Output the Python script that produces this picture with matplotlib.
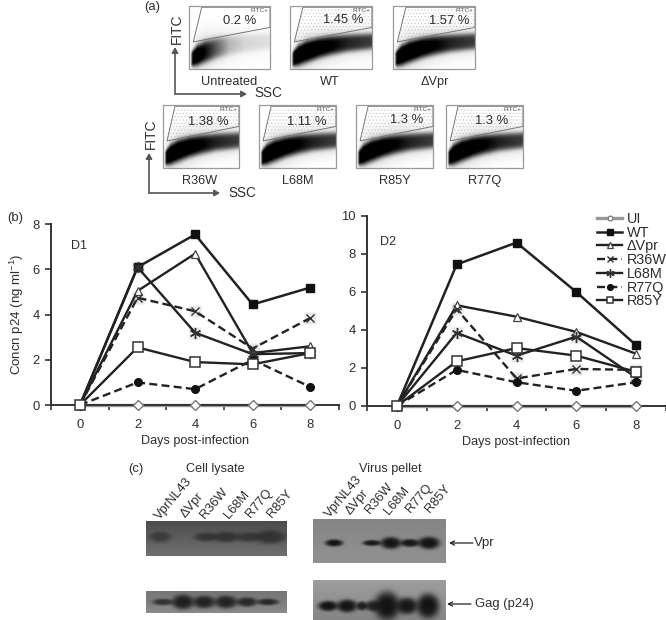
import numpy as np
import matplotlib
matplotlib.use("Agg")
import matplotlib.pyplot as plt
from matplotlib.lines import Line2D
from matplotlib.patches import Polygon, Rectangle

plt.rcParams['font.family'] = ['Liberation Sans', 'DejaVu Sans']
plt.rcParams['mathtext.fontset'] = 'custom'
plt.rcParams['mathtext.rm'] = 'Liberation Sans'
plt.rcParams['mathtext.default'] = 'rm'
plt.rcParams['hatch.linewidth'] = 0.3

# ---------- data: growth curves ----------
days = [0, 2, 4, 6, 8]
series_names = ['UI', 'WT', 'ΔVpr', 'R36W', 'L68M', 'R77Q', 'R85Y']
d1_ui = [0, 0, 0, 0, 0]
d1_wt = [0, 6.1, 7.55, 4.45, 5.2]
d1_dvpr = [0, 5.05, 6.7, 2.3, 2.6]
d1_r36w = [0, 4.75, 4.15, 2.5, 3.85]
d1_l68m = [0, 6.1, 3.2, 2.25, 2.3]
d1_r77q = [0, 1.0, 0.7, 2.0, 0.8]
d1_r85y = [0, 2.55, 1.9, 1.8, 2.3]
d2_ui = [0, 0, 0, 0, 0]
d2_wt = [0, 7.45, 8.6, 6.0, 3.2]
d2_dvpr = [0, 5.3, 4.7, 3.9, 2.75]
d2_r36w = [0, 5.1, 1.45, 1.95, 1.9]
d2_l68m = [0, 3.85, 2.65, 3.65, 1.5]
d2_r77q = [0, 1.9, 1.25, 0.8, 1.25]
d2_r85y = [0, 2.35, 3.05, 2.65, 1.8]

# ---------- data: flow panels ----------
flow_labels_top = ['Untreated', 'WT', 'ΔVpr']
flow_pct_top = ['0.2 %', '1.45 %', '1.57 %']
flow_labels_bottom = ['R36W', 'L68M', 'R85Y', 'R77Q']
flow_pct_bottom = ['1.38 %', '1.11 %', '1.3 %', '1.3 %']
flow_x = [0.03, 0.1, 0.2, 0.35, 0.5, 0.7, 1.0]
flow_upper = [0.27, 0.38, 0.45, 0.50, 0.53, 0.55, 0.57]
flow_lower = [0.04, 0.05, 0.10, 0.17, 0.22, 0.27, 0.31]
density_untreated = [1.0, 0.97, 0.8, 0.48, 0.2, 0.1, 0.07]
density_infected = [1.0, 1.0, 1.0, 0.95, 0.85, 0.72, 0.62]
gate_x = [0.157, 1.0, 1.0, 0.053]
gate_y = [0.98, 0.98, 0.66, 0.43]

# ---------- data: blots (x centre, half width, half height, strength) ----------
blot_lanes_lysate = ['VprNL43', 'ΔVpr', 'R36W', 'L68M', 'R77Q', 'R85Y']
blot_lanes_pellet = ['VprNL43', 'ΔVpr', 'R36W', 'L68M', 'R77Q', 'R85Y']
lysate_vpr_bands = [(160, 11, 5.5, .55), (206, 12, 4.5, .65), (226, 13, 5.5, .68),
                    (248, 13, 5, .6), (270, 16, 7, .7)]
lysate_gag_bands = [(163, 11, 3.4, .75), (183, 11, 7.5, .95), (204, 11.5, 6.5, .9),
                    (226, 11.5, 6.5, .9), (247, 10.5, 4.8, .85), (268, 11, 3.4, .85)]
pellet_vpr_bands = [(334, 9, 3.6, 1), (372, 9.5, 3, .95), (391, 10.5, 6, 1),
                    (410, 10, 4, .97), (429, 11, 6.3, 1)]
pellet_gag_bands = [(328, 10, 5.2, 1), (347, 10.5, 6.5, 1), (362, 5.5, 4.5, .9), (373, 8, 5.5, .85),
                    (387, 13, 14.5, 1), (407, 11, 8.5, .97), (428, 11.5, 12.5, 1)]


def px_axes(fig, left, top, right, bottom):
    W, H = fig.get_size_inches() * fig.dpi
    return fig.add_axes([left / W, 1 - bottom / H, (right - left) / W, (bottom - top) / H])


fig = plt.figure(figsize=(6.66, 6.20), dpi=100)
ov = fig.add_axes([0, 0, 1, 1])
ink = '#2e2e2e'


def T(x, y, s, size=9, **kw):
    kw.setdefault('ha', 'center')
    kw.setdefault('va', 'center')
    kw.setdefault('color', ink)
    ov.text(x, y, s, fontsize=size, **kw)


# ---------- flow panels ----------
def flow_panel(left, top, right, bottom, density, label, pct, pct_xy, label_y, hatch=True):
    nx, ny = 240, 190
    xs = np.linspace(0, 1, nx)
    ys = np.linspace(0, 1, ny)
    X, Y = np.meshgrid(xs, ys)
    up = np.interp(X, flow_x, flow_upper)
    lo = np.interp(X, flow_x, flow_lower)
    c, h = (up + lo) / 2, (up - lo) / 2
    amt = np.interp(X, flow_x, density)
    core = np.exp(-(np.abs(Y - c) / h) ** 4)
    halo = 0.2 * np.exp(-(np.abs(Y - c) / (1.6 * h)) ** 2)
    edge = np.clip((X - 0.015) / 0.03, 0, 1)
    d = np.clip(core * 0.98 * amt + halo * (amt ** 0.5), 0, 1) * edge
    ov.imshow(1 - d, extent=(left, right, bottom, top), origin='lower', cmap='gray',
              vmin=0, vmax=1, aspect='auto', zorder=1, interpolation='bilinear')
    pts = [(left + gx * (right - left), bottom - gy * (bottom - top)) for gx, gy in zip(gate_x, gate_y)]
    if hatch:
        ov.add_patch(Polygon(pts, closed=True, fill=False, hatch='.....', edgecolor='#bdbdbd', lw=0, zorder=2))
    ov.add_patch(Polygon(pts, closed=True, fill=False, edgecolor='#777777', lw=0.7, zorder=3))
    ov.add_patch(Rectangle((left, top), right - left, bottom - top, fill=False,
                           edgecolor='#9a9a9a', lw=0.9, zorder=4))
    T(right - 1.5, top + 4.5, 'FITC+', size=4.6, ha='right', color='#555555', zorder=5)
    T(pct_xy[0], pct_xy[1], pct, size=9.4, zorder=5)
    T((left + right) / 2 + (pct_xy[2]), label_y, label, size=9.2, zorder=5)


top_boxes = [(189, 270), (290, 372), (393, 475)]
top_pct_xy = [(240, 20.5, 0), (343, 20, -1), (449, 20.5, 1)]
for i, (l, r) in enumerate(top_boxes):
    flow_panel(l, 6, r, 69, density_untreated if i == 0 else density_infected,
               flow_labels_top[i], flow_pct_top[i], top_pct_xy[i], 82, hatch=i != 0)
bot_boxes = [(163, 239), (259, 336), (356, 433), (446, 523)]
bot_pct_xy = [(208, 122, -1), (307, 122, 0), (407, 120, 0), (492, 121, 0)]
for i, (l, r) in enumerate(bot_boxes):
    flow_panel(l, 105, r, 168, density_infected, flow_labels_bottom[i], flow_pct_bottom[i],
               bot_pct_xy[i], 181)

arrow_kw = dict(arrowstyle='-|>,head_width=0.18,head_length=0.32', color='#555555', lw=1.2,
                shrinkA=0, shrinkB=0)
for (ax_x, ay_top, ay_bot, ax_right) in [(175, 47, 94, 247), (149, 153, 193, 220)]:
    ov.annotate('', xy=(ax_x, ay_top), xytext=(ax_x, ay_bot), arrowprops=arrow_kw)
    ov.annotate('', xy=(ax_right, ay_bot), xytext=(ax_x, ay_bot), arrowprops=arrow_kw)
T(177, 29, 'FITC', size=9.8, rotation=90)
T(151, 134, 'FITC', size=9.8, rotation=90)
T(268, 93, 'SSC', size=9.8)
T(242, 193, 'SSC', size=9.8)
T(152, 7, '(a)', size=9.4)
T(15, 218, '(b)', size=9.4)
T(136, 469, '(c)', size=9.4)


# ---------- blots ----------
def blot(left, top, right, bottom, bands, bg_top, bg_bot, yc, dark=0.1):
    xs = np.linspace(left, right, int(right - left) * 3)
    ys = np.linspace(top, bottom, int(bottom - top) * 3)
    X, Y = np.meshgrid(xs, ys)
    bg = bg_top + (bg_bot - bg_top) * (Y - top) / (bottom - top)
    keep = np.ones_like(X)
    for cx, hw, hh, a in bands:
        r2 = ((X - cx) / hw) ** 2 + ((Y - yc) / hh) ** 2
        keep *= 1 - a * np.exp(-r2 ** 2)
    img = dark + (bg - dark) * keep
    ov.imshow(img, extent=(left, right, bottom, top), origin='upper', cmap='gray',
              vmin=0, vmax=1, aspect='auto', zorder=1, interpolation='bilinear')


blot(146, 521, 287, 556, lysate_vpr_bands, 0.30, 0.44, 537, dark=0.13)
blot(146, 591, 287, 613, lysate_gag_bands, 0.46, 0.54, 602)
blot(313, 519, 446, 563, pellet_vpr_bands, 0.52, 0.57, 543, dark=0.08)
blot(313, 580, 446, 620, pellet_gag_bands, 0.62, 0.52, 606, dark=0.08)

lys_xy = [(157, 518), (183, 516), (203, 517), (227, 517), (248, 516), (270, 516)]
pel_xy = [(327, 516), (348, 513), (368, 512), (387, 513), (408, 511), (428, 511)]
for name, (x, y) in zip(blot_lanes_lysate, lys_xy):
    T(x, y, name, size=9.3, rotation=50, ha='left', rotation_mode='anchor')
for name, (x, y) in zip(blot_lanes_pellet, pel_xy):
    T(x, y, name, size=9.3, rotation=50, ha='left', rotation_mode='anchor')
T(215, 469, 'Cell lysate', size=9.1)
T(390, 469, 'Virus pellet', size=9.1)
blot_arrow = dict(arrowstyle='->,head_width=0.15,head_length=0.3', color='#222222', lw=0.9,
                  shrinkA=0, shrinkB=0)
ov.annotate('', xy=(449, 543), xytext=(473, 543), arrowprops=blot_arrow)
ov.annotate('', xy=(447, 604), xytext=(471, 604), arrowprops=blot_arrow)
T(474, 543, 'Vpr', size=9.6, ha='left')
T(475, 604, 'Gag (p24)', size=9.4, ha='left')

ov.set_xlim(0, 666)
ov.set_ylim(620, 0)
ov.axis('off')

# ---------- line charts ----------
styles = {
    'UI': dict(color='#999999', lw=2.4, ls='-', marker='D', ms=5, mfc='white', mec='#777777', mew=1),
    'WT': dict(color='#222222', lw=1.8, ls='-', marker='s', ms=5.5, mfc='#111111', mec='#111111', mew=1),
    'ΔVpr': dict(color='#222222', lw=1.7, ls='-', marker='^', ms=6, mfc='white', mec='#444444', mew=0.9),
    'R36W': dict(color='#222222', lw=1.7, ls=(0, (3.4, 1.8)), marker='x', ms=6, mfc='none', mec='#333333', mew=1),
    'L68M': dict(color='#222222', lw=1.7, ls='-', marker=(6, 2, 0), ms=8, mfc='none', mec='#333333', mew=1),
    'R77Q': dict(color='#222222', lw=1.7, ls=(0, (3.4, 1.8)), marker='o', ms=5.5, mfc='#111111', mec='#111111', mew=1),
    'R85Y': dict(color='#222222', lw=1.7, ls='-', marker='s', ms=6.5, mfc='white', mec='#333333', mew=1.1),
}


def chart(box, ymax, yticks, curves, ylabel=None, tick_size=9.4):
    ax = px_axes(fig, *box)
    ax.patch.set_alpha(0)
    lines = []
    for name, vals in zip(series_names, curves):
        st = styles[name]
        if name == 'UI':
            ax.plot(days, vals, color=st['color'], lw=st['lw'], clip_on=False, zorder=2)
            ax.plot(days, vals, ls='none', marker=st['marker'], ms=st['ms'], mfc=st['mfc'], mec=st['mec'],
                    mew=st['mew'], clip_on=False, zorder=3)
            ln = Line2D([], [], color=st['color'], lw=st['lw'], marker='o', ms=4.5, mfc='white',
                        mec='#777777', mew=0.9, label=name)
        else:
            ln, = ax.plot(days, vals, label=name, clip_on=False, zorder=3, **st)
        if name in ('R36W', 'L68M'):
            ax.plot(days[1:], vals[1:], ls='none', marker='s', ms=8, mfc='#e2e2e2', mec='none', zorder=2.5,
                    alpha=0.8, clip_on=False)
        lines.append(ln)
    ax.set_xlim(-1, 9)
    ax.set_ylim(0, ymax)
    ax.set_xticks(days)
    ax.set_xticks([-1, 1, 3, 5, 7, 9], minor=True)
    ax.set_yticks(yticks)
    ax.tick_params(axis='x', which='major', length=0, pad=10, labelsize=tick_size, labelcolor=ink)
    ax.tick_params(axis='x', which='minor', length=3.5, width=1.2, color='#333333')
    ax.tick_params(axis='y', which='major', length=4, width=1.2, color='#333333', labelsize=tick_size,
                   labelcolor=ink, pad=4)
    for s in ('top', 'right'):
        ax.spines[s].set_visible(False)
    for s in ('left', 'bottom'):
        ax.spines[s].set_linewidth(1.4)
        ax.spines[s].set_color('#333333')
    ax.set_xlabel('Days post-infection', fontsize=9.1, color=ink, labelpad=3)
    if ylabel:
        ax.set_ylabel(ylabel, fontsize=9.5, color=ink, labelpad=5)
    return ax, lines


ax1, _ = chart((51.2, 224.3, 339, 405), 8, [0, 2, 4, 6, 8],
               [d1_ui, d1_wt, d1_dvpr, d1_r36w, d1_l68m, d1_r77q, d1_r85y],
               ylabel='Concn p24 (ng ml$^{-1}$)')
ax2, lines2 = chart((367, 216, 666, 406), 10, [0, 2, 4, 6, 8, 10],
                    [d2_ui, d2_wt, d2_dvpr, d2_r36w, d2_l68m, d2_r77q, d2_r85y])
ax1.text(-0.05, 7.05, 'D1', fontsize=9, color=ink, ha='center', va='center')
ax2.text(-0.3, 8.65, 'D2', fontsize=9, color=ink, ha='center', va='center')

leg = ax2.legend(handles=lines2, loc='upper left', bbox_to_anchor=(597 / 666, 1 - 212 / 620),
                 bbox_transform=fig.transFigure, frameon=False, fontsize=10.4, handlelength=1.75,
                 handletextpad=0.3, labelspacing=-0.02, borderpad=0, borderaxespad=0, markerscale=0.75)
for t in leg.get_texts():
    t.set_color(ink)

fig.savefig('out.png', dpi=100)
